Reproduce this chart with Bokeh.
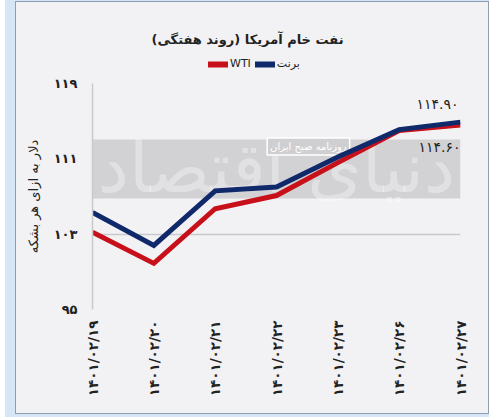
import math
from bokeh.plotting import figure
from bokeh.models import Range1d, FixedTicker, Legend, LegendItem, BoxAnnotation, Label, ColumnDataSource
from bokeh.layouts import column
from bokeh.embed import file_html
from bokeh.resources import INLINE
from bokeh.core.properties import value

# ---- data ----
dates = ["۱۴۰۱/۰۲/۱۹", "۱۴۰۱/۰۲/۲۰", "۱۴۰۱/۰۲/۲۱", "۱۴۰۱/۰۲/۲۲",
         "۱۴۰۱/۰۲/۲۳", "۱۴۰۱/۰۲/۲۶", "۱۴۰۱/۰۲/۲۷"]
brent = [105.3, 101.8, 107.6, 108.0, 111.2, 114.1, 114.9]
wti = [103.2, 99.9, 105.7, 107.1, 110.6, 114.0, 114.6]
y_ticks = [95, 103, 111, 119]
y_tick_labels = ["۹۵", "۱۰۳", "۱۱۱", "۱۱۹"]
end_labels = ["۱۱۴.۹۰", "۱۱۴.۶۰"]
series_names = ["برنت", "WTI"]
title_text = "\u200fنفت خام آمریکا (روند هفتگی)\u200f"
y_title = "دلار به ازای هر بشکه"
watermark = "دنیای اقتصاد"
watermark_small = "روزنامه صبح ایران"

FONT = "DejaVu Sans"
BG = "#f2f2f4"
RED = "#c8101a"
NAVY = "#10296b"
W = 472
HEAD_H = 71
MAIN_H = 340
BORDER_L, BORDER_R = 76, 28
FRAME_W = W - BORDER_L - BORDER_R

xs = list(range(len(dates)))
NAN = float("nan")

# ---- header: title + legend (frame aligned with the main plot's frame) ----
head = figure(width=W, height=HEAD_H, output_backend="svg", toolbar_location=None,
              x_axis_type=None, y_axis_type=None,
              x_range=Range1d(0, FRAME_W), y_range=Range1d(0, HEAD_H),
              background_fill_color=BG, border_fill_color=BG,
              min_border_left=BORDER_L, min_border_right=BORDER_R,
              min_border_top=0, min_border_bottom=0)
head.grid.visible = False
head.outline_line_color = None
head.add_layout(Label(x=155, y=34, text=title_text, text_font=FONT, text_font_size="13px",
                      text_font_style="bold", text_color="#222222",
                      text_align="center", text_baseline="middle"))
d_wti = head.line(x=[NAN], y=[NAN], line_color=RED, line_width=6, line_cap="round")
d_brent = head.line(x=[NAN], y=[NAN], line_color=NAVY, line_width=6, line_cap="round")
legend = Legend(items=[LegendItem(label=series_names[1], renderers=[d_wti]),
                       LegendItem(label=series_names[0], renderers=[d_brent])],
                orientation="horizontal", location=(116, 3),
                label_text_font=FONT, label_text_font_size="11px", label_text_color="#222222",
                glyph_width=20, glyph_height=8, label_standoff=2, spacing=4,
                padding=0, margin=0, border_line_color=None, background_fill_alpha=0)
head.add_layout(legend)

# ---- main plot ----
p = figure(width=W, height=MAIN_H, output_backend="svg", toolbar_location=None,
           x_range=Range1d(0, len(dates) - 1), y_range=Range1d(y_ticks[0], y_ticks[-1]),
           background_fill_color=BG, border_fill_color=BG,
           min_border_left=BORDER_L, min_border_right=BORDER_R,
           min_border_top=10, min_border_bottom=104)
p.outline_line_color = None

p.add_layout(BoxAnnotation(bottom=106.8, top=113.05, fill_color="#d2d2d4", fill_alpha=1.0,
                           line_color=None, level="underlay"))

p.xgrid.visible = False
p.ygrid.ticker = FixedTicker(ticks=y_ticks)
p.ygrid.grid_line_color = "#c9c9cb"
p.ygrid.grid_line_width = 1.5

p.yaxis.ticker = FixedTicker(ticks=y_ticks)
p.yaxis.major_label_overrides = {t: l for t, l in zip(y_ticks, y_tick_labels)}
p.yaxis.axis_line_color = "#c9c9cb"
p.yaxis.axis_line_width = 1.5
p.yaxis.major_tick_line_color = None
p.yaxis.minor_tick_line_color = None
p.yaxis.major_tick_out = 0
p.yaxis.major_label_standoff = 15
p.yaxis.major_label_text_font = FONT
p.yaxis.major_label_text_font_size = "13px"
p.yaxis.major_label_text_font_style = "bold"
p.yaxis.major_label_text_color = "#222222"
p.yaxis.axis_label = y_title
p.yaxis.axis_label_text_font = FONT
p.yaxis.axis_label_text_font_size = "13px"
p.yaxis.axis_label_text_font_style = "normal"
p.yaxis.axis_label_text_color = "#222222"
p.yaxis.axis_label_standoff = 10

p.xaxis.ticker = FixedTicker(ticks=xs)
p.xaxis.major_label_overrides = {i: d for i, d in zip(xs, dates)}
p.xaxis.major_label_orientation = math.pi / 2
p.xaxis.axis_line_color = None
p.xaxis.major_tick_line_color = None
p.xaxis.minor_tick_line_color = None
p.xaxis.major_tick_out = 0
p.xaxis.major_label_standoff = 11
p.xaxis.major_label_text_font = FONT
p.xaxis.major_label_text_font_size = "13.5px"
p.xaxis.major_label_text_font_style = "bold"
p.xaxis.major_label_text_color = "#222222"

# watermark
p.add_layout(Label(x=3.0, y=110.0, text=watermark, text_font=FONT, text_font_size="70px",
                   text_color="white", text_alpha=0.35, text_align="center",
                   text_baseline="middle", level="underlay"))
p.add_layout(Label(x=3.52, y=112.3, text=watermark_small, text_font=FONT, text_font_size="10px",
                   text_color="white", text_align="center", text_baseline="middle",
                   border_line_color="white", border_line_width=1.5,
                   background_fill_color="#cfcfd1", padding=3, level="underlay"))

src = ColumnDataSource(dict(x=xs, brent=brent, wti=wti))
p.line("x", "wti", source=src, line_color=RED, line_width=5, line_join="miter")
p.line("x", "brent", source=src, line_color=NAVY, line_width=5, line_join="miter")

last = len(xs) - 1
p.text(x=[xs[last]], y=[brent[last]], text=[end_labels[0]], text_font=value(FONT),
       text_font_size="14px", text_color="#222222", text_align="right",
       text_baseline="middle", y_offset=-18, x_offset=-2)
p.text(x=[xs[last]], y=[wti[last]], text=[end_labels[1]], text_font=value(FONT),
       text_font_size="14px", text_color="#222222", text_align="right",
       text_baseline="middle", y_offset=22, x_offset=0)

card = column(head, p, width=W, height=HEAD_H + MAIN_H, spacing=0, margin=(2, 1, 4, 16),
              styles={"outline": "1px solid #8d9db2", "background-color": BG})
root = column(card, width=489, height=417, spacing=0,
              styles={"background": "linear-gradient(to right, #ffffff 5px, #d6e6f6 5px)"})

open("out.html", "w").write(file_html(root, INLINE))
